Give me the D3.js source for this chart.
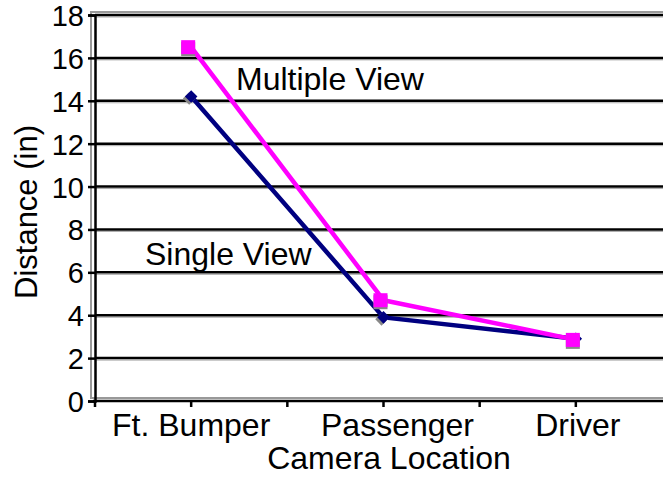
<!DOCTYPE html>
<html>
<head>
<meta charset="utf-8">
<script src="https://cdn.jsdelivr.net/npm/d3@7/dist/d3.min.js"></script>
<style>
  html, body { margin: 0; padding: 0; background: #fff; }
  svg { display: block; }
  text { font-family: "Liberation Sans", Arial, sans-serif; fill: #000; }
</style>
</head>
<body>
<svg id="chart" width="663" height="477"></svg>
<script>
// Camera location vs. measured distance
const categories = ["Ft. Bumper", "Passenger", "Driver"];
const singleView = [14.2, 3.9, 2.9];
const multipleView = [16.5, 4.7, 2.85];
const yTicks = [0, 2, 4, 6, 8, 10, 12, 14, 16, 18];

const svg = d3.select("#chart");
const W = 663, H = 477;
const plot = { left: 95, right: 672, top: 15, bottom: 401 };

const x = d3.scaleBand().domain(categories).range([plot.left, plot.right]).padding(0);
const y = d3.scaleLinear().domain([0, 18]).range([plot.bottom, plot.top]);
const cx = d => x(d) + x.bandwidth() / 2;

// plot-area frame (grey, slightly offset)
svg.append("rect")
  .attr("x", plot.left - 4).attr("y", plot.top - 3)
  .attr("width", plot.right - plot.left + 10).attr("height", plot.bottom - plot.top)
  .attr("fill", "none").attr("stroke", "#999").attr("stroke-width", 2);

// horizontal gridlines with a faint shadow
const grid = svg.append("g");
yTicks.filter(t => t > 0).forEach(t => {
  grid.append("line")
    .attr("x1", plot.left).attr("x2", W)
    .attr("y1", y(t) + 2).attr("y2", y(t) + 2)
    .attr("stroke", "#aaa").attr("stroke-width", 1);
  grid.append("line")
    .attr("x1", plot.left).attr("x2", W)
    .attr("y1", y(t)).attr("y2", y(t))
    .attr("stroke", "#000").attr("stroke-width", 2.5);
});

// y axis
const yAxis = d3.axisLeft(y).tickValues(yTicks).tickSize(7).tickPadding(4);
const gy = svg.append("g").attr("transform", `translate(${plot.left},0)`).call(yAxis);
gy.select(".domain").attr("stroke", "#000").attr("stroke-width", 2.5);
gy.selectAll(".tick line").attr("stroke", "#000").attr("stroke-width", 2.5);
gy.selectAll(".tick text").style("font-size", "29px").attr("dy", "0.36em")
  .style("font-family", "Liberation Sans, Arial, sans-serif");

// x axis: category labels
const labelShift = { "Ft. Bumper": 0, "Passenger": 14, "Driver": 2 };
const xAxis = d3.axisBottom(x).tickSize(0).tickPadding(12);
const gx = svg.append("g").attr("transform", `translate(0,${plot.bottom})`).call(xAxis);
gx.select(".domain").remove();
gx.selectAll(".tick text").style("font-size", "32px")
  .attr("dx", d => labelShift[d])
  .style("font-family", "Liberation Sans, Arial, sans-serif");
svg.append("line")
  .attr("x1", plot.left - 2).attr("x2", W)
  .attr("y1", plot.bottom).attr("y2", plot.bottom)
  .attr("stroke", "#000").attr("stroke-width", 2.5);
// tick marks at category centres and boundaries
const xTickPos = [];
categories.forEach(c => { xTickPos.push(x(c)); xTickPos.push(cx(c)); });
svg.append("g").selectAll("line").data(xTickPos).join("line")
  .attr("x1", d => d).attr("x2", d => d)
  .attr("y1", plot.bottom).attr("y2", plot.bottom + 6)
  .attr("stroke", "#000").attr("stroke-width", 2.5);

// axis titles
svg.append("text")
  .attr("x", 389).attr("y", 469)
  .attr("text-anchor", "middle").style("font-size", "32px")
  .text("Camera Location");
svg.append("text")
  .attr("transform", `translate(37,${(plot.top + plot.bottom) / 2 + 4}) rotate(-90)`)
  .attr("text-anchor", "middle").style("font-size", "31px")
  .text("Distance (in)");

// series lines
const line = vals => d3.line().x((d, i) => cx(categories[i])).y(d => y(d))(vals);

svg.append("path").attr("d", line(singleView))
  .attr("fill", "none").attr("stroke", "#000080").attr("stroke-width", 4.5)
  .attr("stroke-linejoin", "round");
svg.append("path").attr("d", line(multipleView))
  .attr("fill", "none").attr("stroke", "#FF00FF").attr("stroke-width", 4.5)
  .attr("stroke-linejoin", "round");

// markers: diamonds for single view, squares for multiple view (with shadow)
const diamond = d3.symbol().type(d3.symbolDiamond2).size(100);
const gS = svg.append("g");
singleView.forEach((v, i) => {
  gS.append("path").attr("d", diamond())
    .attr("transform", `translate(${cx(categories[i]) - 2},${y(v) + 2})`).attr("fill", "#888");
  gS.append("path").attr("d", diamond())
    .attr("transform", `translate(${cx(categories[i])},${y(v)})`).attr("fill", "#000080");
});
const gM = svg.append("g");
const sq = 14;
multipleView.forEach((v, i) => {
  const px = cx(categories[i]) - 3, py = y(v);
  gM.append("rect").attr("x", px - sq / 2).attr("y", py - sq / 2 + 2)
    .attr("width", sq).attr("height", sq).attr("fill", "#888");
  gM.append("rect").attr("x", px - sq / 2).attr("y", py - sq / 2)
    .attr("width", sq).attr("height", sq).attr("fill", "#FF00FF");
});

// series labels
svg.append("text").attr("x", 236).attr("y", 90).style("font-size", "32px").text("Multiple View");
svg.append("text").attr("x", 145).attr("y", 265).style("font-size", "32px").text("Single View");
</script>
</body>
</html>
